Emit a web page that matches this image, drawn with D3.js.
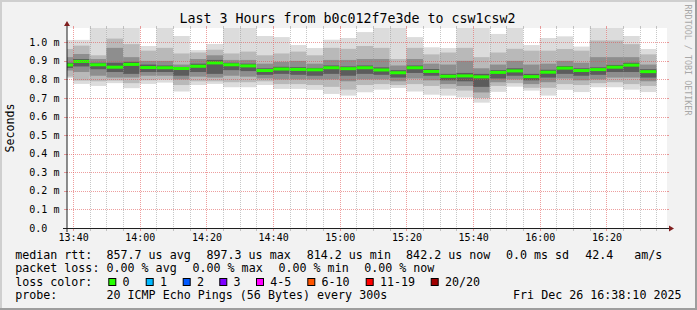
<!DOCTYPE html>
<html>
<head>
<meta charset="utf-8">
<script src="https://cdn.jsdelivr.net/npm/d3@7"></script>
<style>
  html, body { margin: 0; padding: 0; background: #f2f2f2; }
  svg { display: block; }
  text { font-family: "DejaVu Sans Mono", monospace; }
</style>
</head>
<body>
<svg id="chart" width="697" height="310"></svg>
<script>
// ---------------- data ----------------
const titleText = "Last 3 Hours from b0c012f7e3de to csw1csw2";
const yAxisTitle = "Seconds";
const watermark = "RRDTOOL / TOBI OETIKER";
const graphStart = "13:38:10";
const graphEnd = "16:38:10";
const stepMinutes = 5;

// start time of each 5-minute bin
const binStart = ["13:35","13:40","13:45","13:50","13:55","14:00","14:05","14:10","14:15","14:20",
  "14:25","14:30","14:35","14:40","14:45","14:50","14:55","15:00","15:05","15:10",
  "15:15","15:20","15:25","15:30","15:35","15:40","15:45","15:50","15:55","16:00",
  "16:05","16:10","16:15","16:20","16:25","16:30"];

// values in milliseconds
const median = [0.878,0.897,0.879,0.866,0.881,0.864,0.863,0.859,0.871,0.889,
  0.879,0.873,0.848,0.856,0.854,0.852,0.863,0.858,0.863,0.851,
  0.836,0.863,0.843,0.817,0.819,0.814,0.838,0.846,0.815,0.839,
  0.861,0.848,0.853,0.866,0.877,0.842];
const pingMax = [1.012,1.013,1.10,1.10,1.10,0.980,1.10,1.034,0.958,0.991,
  1.10,1.10,1.034,1.028,0.985,0.969,1.014,1.023,1.055,1.10,
  1.10,1.028,0.973,0.969,1.10,1.10,1.045,1.10,0.985,1.023,
  1.032,0.977,1.10,1.10,1.034,0.964];
const ping90 = [0.964,0.982,0.93,1.02,0.99,0.955,0.97,0.94,0.945,0.96,
  0.94,0.95,0.93,0.94,0.95,0.93,0.97,0.965,0.98,0.97,
  0.91,0.97,0.935,0.945,0.97,0.92,0.945,0.965,0.955,0.955,
  0.964,0.955,1.01,1.01,0.99,0.935];
const ping75 = [0.92,0.937,0.91,0.97,0.92,0.90,0.90,0.88,0.91,0.93,
  0.905,0.905,0.885,0.895,0.90,0.885,0.905,0.905,0.91,0.91,
  0.875,0.91,0.885,0.88,0.90,0.86,0.88,0.90,0.88,0.885,
  0.90,0.89,0.92,0.92,0.92,0.88];
const ping60 = [0.89,0.91,0.89,0.89,0.895,0.88,0.875,0.865,0.885,0.905,
  0.89,0.885,0.86,0.868,0.866,0.862,0.875,0.87,0.875,0.865,
  0.85,0.875,0.856,0.83,0.835,0.83,0.85,0.86,0.83,0.852,
  0.872,0.86,0.865,0.878,0.89,0.855];
const ping40 = [0.862,0.87,0.855,0.84,0.83,0.84,0.84,0.82,0.84,0.83,
  0.85,0.845,0.825,0.83,0.825,0.82,0.83,0.82,0.83,0.825,
  0.81,0.835,0.82,0.795,0.79,0.76,0.805,0.82,0.795,0.81,
  0.83,0.82,0.825,0.84,0.84,0.81];
const ping25 = [0.848,0.84,0.82,0.81,0.81,0.82,0.82,0.80,0.815,0.81,
  0.82,0.815,0.805,0.80,0.80,0.80,0.80,0.79,0.80,0.80,
  0.79,0.805,0.795,0.775,0.765,0.73,0.785,0.80,0.775,0.785,
  0.805,0.795,0.80,0.81,0.81,0.79];
const ping10 = [0.815,0.794,0.79,0.794,0.78,0.795,0.80,0.77,0.79,0.79,
  0.785,0.785,0.79,0.775,0.775,0.77,0.76,0.745,0.77,0.775,
  0.77,0.775,0.765,0.75,0.74,0.70,0.765,0.78,0.755,0.755,
  0.775,0.77,0.78,0.785,0.775,0.765];
const pingMin = [0.807,0.776,0.765,0.780,0.753,0.776,0.783,0.735,0.770,0.776,
  0.758,0.758,0.770,0.749,0.749,0.744,0.722,0.713,0.731,0.745,
  0.754,0.735,0.718,0.713,0.703,0.675,0.733,0.761,0.740,0.713,
  0.744,0.732,0.758,0.758,0.745,0.732];

const xTickLabels = ["13:40","14:00","14:20","14:40","15:00","15:20","15:40","16:00","16:20"];
const yTickValues = [0,0.1,0.2,0.3,0.4,0.5,0.6,0.7,0.8,0.9,1.0];
const yTickLabels = ["0.0","0.1 m","0.2 m","0.3 m","0.4 m","0.5 m","0.6 m","0.7 m","0.8 m","0.9 m","1.0 m"];
const yMax = 1.077;

const legendRtt = ["median rtt:","857.7 us avg","897.3 us max","814.2 us min","842.2 us now","0.0 ms sd","42.4","am/s"];
const legendLoss = ["packet loss:","0.00 % avg","0.00 % max","0.00 % min","0.00 % now"];
const legendColorTitle = "loss color:";
const lossLabels = ["0","1","2","3","4-5","6-10","11-19","20/20"];
const lossColors = ["#26ff00","#00b8ff","#0059ff","#7e00ff","#ff00ff","#ff5500","#ff0000","#a00000"];
const legendProbe = ["probe:","20 ICMP Echo Pings (56 Bytes) every 300s"];
const stampText = "Fri Dec 26 16:38:10 2025";

// ---------------- layout ----------------
const W = 697, H = 310;
const X0 = 67, X1 = 667, Y0 = 228, Y1 = 28;
const parseT = d3.utcParse("%Y-%m-%dT%H:%M:%S");
const T = s => parseT("2025-12-26T" + (s.length === 5 ? s + ":00" : s));

const x = d3.scaleUtc().domain([T(graphStart), T(graphEnd)]).range([X0, X1]);
const y = d3.scaleLinear().domain([0, yMax]).range([Y0, Y1]);

const svg = d3.select("#chart");

// background + shading frame
svg.append("rect").attr("width", W).attr("height", H).attr("fill", "#f2f2f2");
svg.append("rect").attr("x", 0).attr("y", 0).attr("width", W).attr("height", 2).attr("fill", "#cfcfcf");
svg.append("rect").attr("x", 0).attr("y", 0).attr("width", 2).attr("height", H).attr("fill", "#cfcfcf");
svg.append("rect").attr("x", 0).attr("y", H - 2).attr("width", W).attr("height", 2).attr("fill", "#9e9e9e");
svg.append("rect").attr("x", W - 2).attr("y", 0).attr("width", 2).attr("height", H).attr("fill", "#9e9e9e");

// canvas
svg.append("rect").attr("x", X0).attr("y", Y1).attr("width", X1 - X0).attr("height", Y0 - Y1).attr("fill", "#ffffff");

svg.append("defs").append("clipPath").attr("id", "plotclip")
  .append("rect").attr("x", X0).attr("y", Y1).attr("width", X1 - X0).attr("height", Y0 - Y1);

const plot = svg.append("g").attr("clip-path", "url(#plotclip)");

const bins = binStart.map((s, i) => ({
  t0: T(s),
  t1: d3.utcMinute.offset(T(s), stepMinutes),
  bands: [[pingMin[i], pingMax[i]], [ping10[i], ping90[i]], [ping25[i], ping75[i]], [ping40[i], ping60[i]]],
  med: median[i]
}));
const bandColors = ["#dcdcdc", "#b9b9b9", "#8e8e8e", "#5c5c5c"];

bins.forEach(b => {
  const xa = x(b.t0), xb = x(b.t1);
  b.bands.forEach((bd, k) => {
    plot.append("rect")
      .attr("x", xa).attr("width", xb - xa)
      .attr("y", y(bd[1])).attr("height", y(bd[0]) - y(bd[1]))
      .attr("fill", bandColors[k]);
  });
  plot.append("rect")
    .attr("x", xa).attr("width", xb - xa)
    .attr("y", y(b.med) - 1.5).attr("height", 3)
    .attr("fill", lossColors[0]);
});

// grid
const gridMinor = "rgba(143,143,143,0.5)";
const gridMajor = "rgba(222,79,79,0.55)";
const gridTimes = d3.utcMinute.every(5).range(T("13:40"), T(graphEnd));
const grid = svg.append("g");
gridTimes.forEach(t => {
  const major = t.getUTCMinutes() % 20 === 0;
  const xx = Math.round(x(t)) + 0.5;
  const col = major ? gridMajor : gridMinor;
  grid.append("line").attr("x1", xx).attr("x2", xx).attr("y1", Y1).attr("y2", Y0)
    .attr("stroke", col).attr("stroke-dasharray", "1,1");
  grid.append("line").attr("x1", xx).attr("x2", xx).attr("y1", Y0).attr("y2", Y0 + 3)
    .attr("stroke", col);
  grid.append("line").attr("x1", xx).attr("x2", xx).attr("y1", Y1 - 2).attr("y2", Y1)
    .attr("stroke", col);
});
yTickValues.forEach(v => {
  const yy = Math.round(y(v)) + 0.5;
  grid.append("line").attr("x1", X0).attr("x2", X1).attr("y1", yy).attr("y2", yy)
    .attr("stroke", gridMajor).attr("stroke-dasharray", "1,1");
  grid.append("line").attr("x1", X0 - 3).attr("x2", X0).attr("y1", yy).attr("y2", yy)
    .attr("stroke", gridMajor);
  grid.append("line").attr("x1", X1).attr("x2", X1 + 2).attr("y1", yy).attr("y2", yy)
    .attr("stroke", gridMajor);
});

// axes
svg.append("line").attr("x1", X0 - 4).attr("x2", X1 + 4).attr("y1", Y0 + 0.5).attr("y2", Y0 + 0.5)
  .attr("stroke", "#1f1f1f");
svg.append("line").attr("x1", X0).attr("x2", X0).attr("y1", Y0 + 4).attr("y2", Y1 - 4)
  .attr("stroke", "#1f1f1f");
svg.append("path").attr("d", `M${X1 + 2},${Y0 - 2.5}L${X1 + 2},${Y0 + 3.5}L${X1 + 7},${Y0 + 0.5}Z`).attr("fill", "#801f1f");
svg.append("path").attr("d", `M${X0 - 3},${Y1 - 2}L${X0 + 3},${Y1 - 2}L${X0},${Y1 - 7}Z`).attr("fill", "#801f1f");

// x axis labels via d3 axis
const xAxis = d3.axisBottom(x)
  .tickValues(xTickLabels.map(T))
  .tickFormat(d3.utcFormat("%H:%M"))
  .tickSize(0).tickPadding(0);
const gx = svg.append("g").attr("transform", `translate(0,${Y0})`).call(xAxis);
gx.select(".domain").remove();
gx.selectAll("text").attr("font-family", "DejaVu Sans Mono").attr("font-size", 10)
  .attr("fill", "#000").attr("dy", null).attr("y", 12.7);

// y axis labels
const gy = svg.append("g");
yTickValues.forEach((v, i) => {
  gy.append("text").attr("x", 29.3).attr("y", y(v) + 3.6)
    .attr("font-size", 10).attr("fill", "#000").text(yTickLabels[i]);
});

// titles
svg.append("text").attr("x", 347.5).attr("y", 23.3).attr("text-anchor", "middle")
  .attr("font-size", 13.3).attr("fill", "#000").text(titleText);
svg.append("text").attr("transform", `translate(14,${(Y0 + Y1) / 2}) rotate(-90)`)
  .attr("text-anchor", "middle").attr("font-size", 11.6).attr("fill", "#000").text(yAxisTitle);
svg.append("text").attr("transform", `translate(684.5,60) rotate(90)`)
  .attr("text-anchor", "middle").attr("font-size", 8.4).attr("fill", "#a8a8a8").text(watermark);

// legend
const LF = 11.67;
const lg = svg.append("g").attr("font-size", LF).attr("fill", "#000");
const rowY = [258.5, 272, 285.7, 299.3];
const rttX = [16, 107.3, 207.3, 307.5, 406.9, 506.7, 586, 635];
legendRtt.forEach((s, i) => lg.append("text").attr("x", rttX[i] - 0.8).attr("y", rowY[0]).text(s));
const lossX = [16, 107.3, 193.3, 279.3, 365];
legendLoss.forEach((s, i) => lg.append("text").attr("x", lossX[i] - 0.8).attr("y", rowY[1]).text(s));
lg.append("text").attr("x", 15.2).attr("y", rowY[2]).text(legendColorTitle);
const boxX = [108.3, 145.7, 182.7, 219.3, 256, 307.3, 365.7, 430.7];
lossLabels.forEach((s, i) => {
  lg.append("rect").attr("x", boxX[i] + 0.5).attr("y", rowY[2] - 7.2).attr("width", 7).attr("height", 7)
    .attr("fill", lossColors[i]).attr("stroke", "#000").attr("stroke-width", 1);
  lg.append("text").attr("x", boxX[i] + 14.2).attr("y", rowY[2]).text(s);
});
lg.append("text").attr("x", 15.2).attr("y", rowY[3]).text(legendProbe[0]);
lg.append("text").attr("x", 106.5).attr("y", rowY[3]).text(legendProbe[1]);
lg.append("text").attr("x", 681.5).attr("y", rowY[3]).attr("text-anchor", "end").text(stampText);
</script>
</body>
</html>
